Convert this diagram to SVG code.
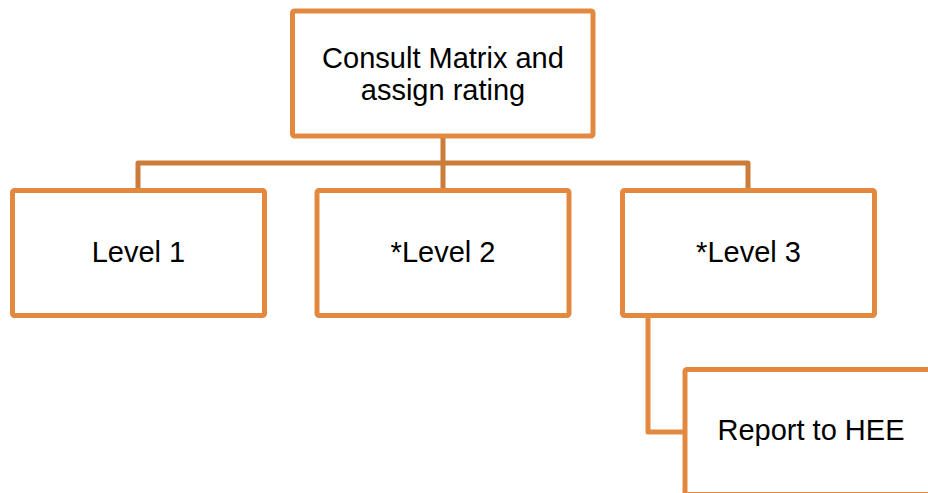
<svg xmlns="http://www.w3.org/2000/svg" width="928" height="493" viewBox="0 0 928 493">
<style>
.box{fill:#FFFFFF;stroke:#E2893F;stroke-width:5;}
.lbl{font-family:"Liberation Sans",Arial,sans-serif;font-size:29px;fill:#000000;text-anchor:middle;}
.con{fill:none;stroke:#CB7B3A;stroke-width:5;stroke-linejoin:round;}
.con2{fill:none;stroke:#E2893F;stroke-width:5;stroke-linejoin:round;}
</style>
<rect width="928" height="493" fill="#FFFFFF"/>
<g id="connectors">
<path class="con" d="M443 136 V163 M138 188 V163 H748 V188 M443 163 V188"/>
<path class="con2" d="M648 316 V432 H685"/>
</g>
<g id="consult">
<rect class="box" x="292.5" y="11" width="300.5" height="125" rx="2"/>
<text class="lbl" x="443" y="68">Consult Matrix and</text>
<text class="lbl" x="443" y="100">assign rating</text>
</g>
<g id="level1">
<rect class="box" x="12.5" y="190.5" width="252" height="125" rx="2"/>
<text class="lbl" x="138.5" y="262">Level 1</text>
</g>
<g id="level2">
<rect class="box" x="317" y="190.5" width="252" height="125" rx="2"/>
<text class="lbl" x="443" y="262">*Level 2</text>
</g>
<g id="level3">
<rect class="box" x="622.5" y="190.5" width="252" height="125" rx="2"/>
<text class="lbl" x="748.5" y="262">*Level 3</text>
</g>
<g id="report">
<rect class="box" x="685" y="369.5" width="252" height="125" rx="2"/>
<text class="lbl" x="811" y="440">Report to HEE</text>
</g>
</svg>
